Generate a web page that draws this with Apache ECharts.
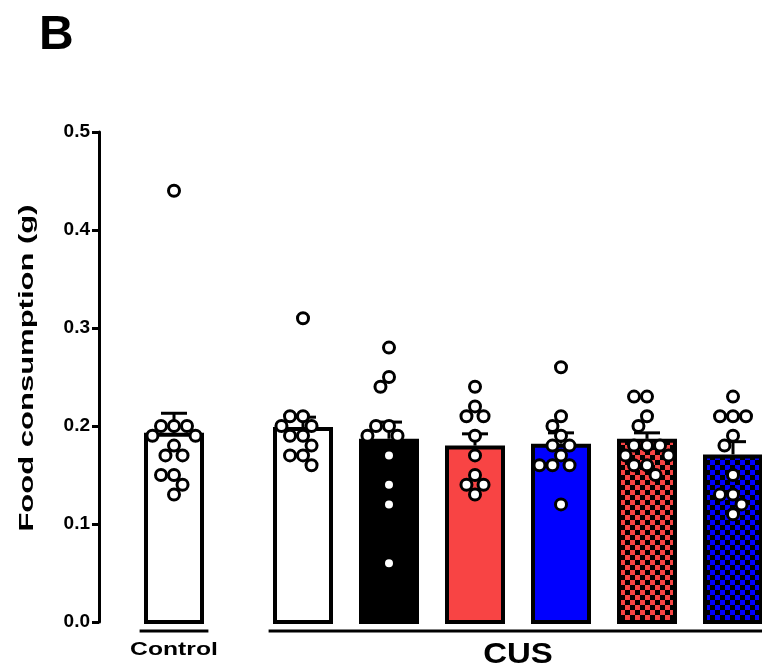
<!DOCTYPE html>
<html><head><meta charset="utf-8">
<script src="https://cdn.jsdelivr.net/npm/echarts@6/dist/echarts.min.js"></script>
<style>html,body{margin:0;padding:0;background:#fff}#c{width:762px;height:667px}</style>
</head><body><div id="c"></div>
<script>
// ---- data ----
const controlValues   = [0.44, 0.20, 0.20, 0.20, 0.19, 0.19, 0.18, 0.17, 0.17, 0.15, 0.15, 0.14, 0.13];
const cusWhiteValues  = [0.31, 0.21, 0.21, 0.20, 0.20, 0.19, 0.19, 0.18, 0.17, 0.17, 0.16];
const cusBlackValues  = [0.28, 0.25, 0.24, 0.20, 0.20, 0.19, 0.19, 0.17, 0.14, 0.12, 0.06];
const cusRedValues    = [0.24, 0.22, 0.21, 0.21, 0.19, 0.17, 0.15, 0.14, 0.14, 0.13];
const cusBlueValues   = [0.26, 0.21, 0.20, 0.19, 0.18, 0.18, 0.17, 0.16, 0.16, 0.16, 0.12];
const cusRedChkValues = [0.23, 0.23, 0.21, 0.20, 0.18, 0.18, 0.18, 0.17, 0.17, 0.16, 0.16, 0.15];
const cusBlueChkValues= [0.23, 0.21, 0.21, 0.21, 0.19, 0.18, 0.15, 0.13, 0.13, 0.12, 0.11];
const groupMeans = [0.193, 0.199, 0.187, 0.180, 0.182, 0.187, 0.171];
const groupSEM   = [0.020, 0.010, 0.017, 0.012, 0.011, 0.006, 0.013];
const sectionLabels = ['Control', 'CUS'];
const sectionSizes  = [1, 6];
const yTickMin = 0, yTickMax = 0.5, yTickStep = 0.1;
const yAxisTitle = 'Food consumption (g)';
const panelLetter = 'B';

const groupValues = [controlValues, cusWhiteValues, cusBlackValues, cusRedValues,
                     cusBlueValues, cusRedChkValues, cusBlueChkValues];

// ---- styles / layout ----
function checker(color) {
  const c = document.createElement('canvas'); c.width = 10; c.height = 10;
  const g = c.getContext('2d');
  g.fillStyle = '#000'; g.fillRect(0, 0, 10, 10);
  g.fillStyle = color; g.fillRect(0, 0, 5, 5); g.fillRect(5, 5, 5, 5);
  return { type: 'pattern', image: c, repeat: 'repeat' };
}
const RED = '#F84444', BLUE = '#0000FF';
const fills = ['#fff', '#fff', '#000', RED, BLUE, checker(RED), checker(BLUE)];

const GAP = 0.5;
const groupX = [];
const sectionRanges = [];
let pos = 0;
sectionSizes.forEach((n) => {
  const start = pos;
  for (let k = 0; k < n; k++) { groupX.push(pos); pos += 1; }
  sectionRanges.push([start, pos - 1]);
  pos += GAP;
});

const PX_PER_X = 86;
const GRID_LEFT = 99, GRID_TOP = 132, GRID_H = 490;
const GRID_W = 762 - GRID_LEFT;
const X_MIN = -(174 - GRID_LEFT) / PX_PER_X;
const X_MAX = X_MIN + GRID_W / PX_PER_X;
const PX_PER_Y = GRID_H / (yTickMax - yTickMin);
const BAR_HALF = 28 / PX_PER_X;

// beeswarm offsets (pixels) computed from values
const D = 13;
function swarm(vals) {
  const placed = [];
  return vals.map(v => {
    const y = v * PX_PER_Y;
    const near = placed.filter(p => Math.abs(p.y - y) < D);
    const cands = [0];
    near.forEach(p => { const w = Math.sqrt(D * D - (p.y - y) ** 2); cands.push(p.x - w, p.x + w); });
    cands.sort((a, b) => Math.abs(a) - Math.abs(b) || a - b);
    let x = 0;
    for (const c of cands) {
      if (near.every(p => Math.abs(c - p.x) >= Math.sqrt(D * D - (p.y - y) ** 2) - 1e-6)) { x = c; break; }
    }
    placed.push({ x, y });
    return x;
  });
}
const pointData = [];
groupValues.forEach((vals, g) => {
  const dx = swarm(vals);
  vals.forEach((v, i) => pointData.push([groupX[g], v, dx[i]]));
});

const FONT = "'Liberation Sans', Arial, Helvetica, sans-serif";
const sectionFont = [ 'bold 19px ' + FONT, 'bold 30px ' + FONT ];
const sectionScaleX = [1.3, 1.1];
const sectionTextDy = [9, 9];

const chart = echarts.init(document.getElementById('c'), null, { renderer: 'canvas' });
chart.setOption({
  animation: false,
  backgroundColor: '#fff',
  grid: { left: GRID_LEFT, top: GRID_TOP, height: GRID_H, width: GRID_W },
  xAxis: { type: 'value', min: X_MIN, max: X_MAX, show: false },
  yAxis: {
    type: 'value', min: yTickMin, max: yTickMax, interval: yTickStep,
    axisLine: { show: true, onZero: false, lineStyle: { color: '#000', width: 3 } },
    axisTick: { show: true, length: 7, lineStyle: { color: '#000', width: 3 } },
    axisLabel: { color: '#000', fontFamily: FONT, fontWeight: 'bold', fontSize: 19, margin: 9,
                 formatter: v => v.toFixed(1) },
    splitLine: { show: false }
  },
  graphic: [
    { type: 'text', left: 39, top: 12, style: { text: panelLetter, font: 'bold 48px ' + FONT, fill: '#000' } },
    { type: 'text', x: 27, y: 368, rotation: Math.PI / 2, scaleX: 1.55,
      style: { text: yAxisTitle, font: 'bold 20px ' + FONT, fill: '#000', align: 'center', verticalAlign: 'middle' } }
  ],
  series: [
    { type: 'custom', z: 2, data: groupX.map((x, i) => [x, groupMeans[i], i]),
      renderItem: (params, api) => {
        const x = api.value(0), i = api.value(2);
        const p0 = api.coord([x - BAR_HALF, api.value(1)]);
        const p1 = api.coord([x + BAR_HALF, 0]);
        return { type: 'rect', shape: { x: p0[0], y: p0[1] + 2, width: p1[0] - p0[0], height: p1[1] - p0[1] - 2 },
                 style: { fill: fills[i], stroke: '#000', lineWidth: 4 } };
      } },
    { type: 'custom', z: 3, data: groupX.map((x, i) => [x, groupMeans[i], groupSEM[i]]),
      renderItem: (params, api) => {
        const x = api.value(0), m = api.value(1), s = api.value(2);
        const b = api.coord([x, m]); const t = api.coord([x, m + s]);
        return { type: 'group', children: [
          { type: 'line', shape: { x1: b[0], y1: b[1], x2: t[0], y2: t[1] }, style: { stroke: '#000', lineWidth: 3 } },
          { type: 'line', shape: { x1: t[0] - 13, y1: t[1], x2: t[0] + 13, y2: t[1] }, style: { stroke: '#000', lineWidth: 3 } }
        ] };
      } },
    { type: 'custom', z: 4, data: pointData,
      renderItem: (params, api) => {
        const p = api.coord([api.value(0), api.value(1)]);
        return { type: 'circle', shape: { cx: p[0] + api.value(2), cy: p[1], r: 5.5 },
                 style: { fill: '#fff', stroke: '#000', lineWidth: 3 } };
      } },
    { type: 'custom', z: 5, clip: false, data: sectionRanges.map((r, i) => [r[0], r[1], i]),
      renderItem: (params, api) => {
        const i = api.value(2);
        const a = api.coord([api.value(0) - 0.4, 0]);
        const b = api.coord([api.value(1) + 0.4, 0]);
        const y = a[1] + 9;
        return { type: 'group', children: [
          { type: 'line', shape: { x1: a[0], y1: y, x2: b[0], y2: y }, style: { stroke: '#000', lineWidth: 3 } },
          { type: 'text', x: (a[0] + b[0]) / 2, y: y + sectionTextDy[i], scaleX: sectionScaleX[i],
            style: { text: sectionLabels[i], font: sectionFont[i], fill: '#000', align: 'center', verticalAlign: 'top' } }
        ] };
      } }
  ]
});
</script></body></html>
